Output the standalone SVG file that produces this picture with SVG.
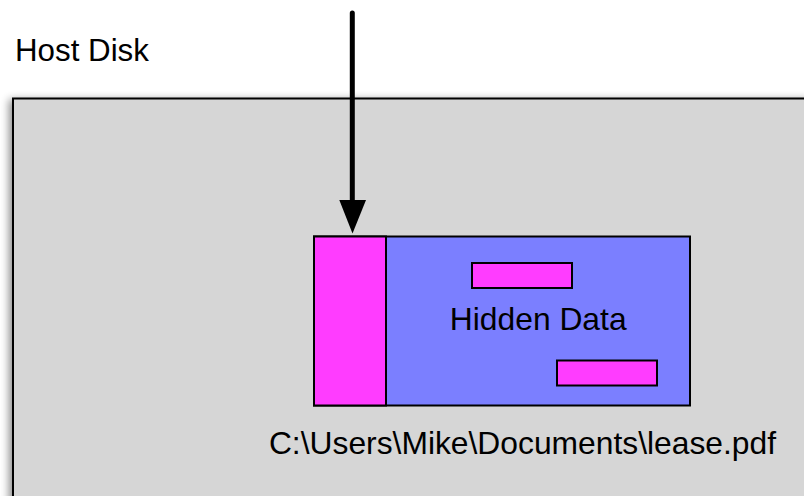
<svg xmlns="http://www.w3.org/2000/svg" width="804" height="496" viewBox="0 0 804 496">
  <defs>
    <filter id="shadow" x="-10%" y="-10%" width="120%" height="120%">
      <feGaussianBlur in="SourceAlpha" stdDeviation="4"/>
      <feOffset dx="-3" dy="2" result="b"/>
      <feComponentTransfer><feFuncA type="linear" slope="0.45"/></feComponentTransfer>
      <feMerge><feMergeNode/><feMergeNode in="SourceGraphic"/></feMerge>
    </filter>
  </defs>
  <style>
    text { font-family: "Liberation Sans", Arial, sans-serif; font-size: 31.8px; fill: #000; }
    .box { stroke: #000; stroke-width: 2; }
    .mag { fill: #ff3cff; }
    .blue { fill: #7b7fff; }
  </style>
  <rect width="804" height="496" fill="#fff"/>
  <g id="host-disk">
    <rect x="13" y="98.5" width="800" height="420" fill="#d6d6d6" class="box" filter="url(#shadow)"/>
    <text x="15" y="61" style="font-size:31.3px">Host Disk</text>
  </g>
  <g id="file">
    <rect x="314" y="236.5" width="376" height="169" class="box blue"/>
    <rect x="314" y="236.5" width="72" height="169" class="box mag"/>
    <text x="522.5" y="453.5" text-anchor="middle">C:\Users\Mike\Documents\lease.pdf</text>
  </g>
  <g id="hidden-data">
    <rect x="472" y="263" width="100" height="25" class="box mag"/>
    <rect x="557" y="360.5" width="100" height="25" class="box mag"/>
    <text x="538.2" y="329.5" text-anchor="middle">Hidden Data</text>
  </g>
  <g id="connectors">
    <line x1="352.3" y1="13" x2="352.3" y2="202" stroke="#000" stroke-width="5" stroke-linecap="round"/>
    <polygon points="339.3,200 366,200 352.5,233.5" fill="#000"/>
  </g>
</svg>
